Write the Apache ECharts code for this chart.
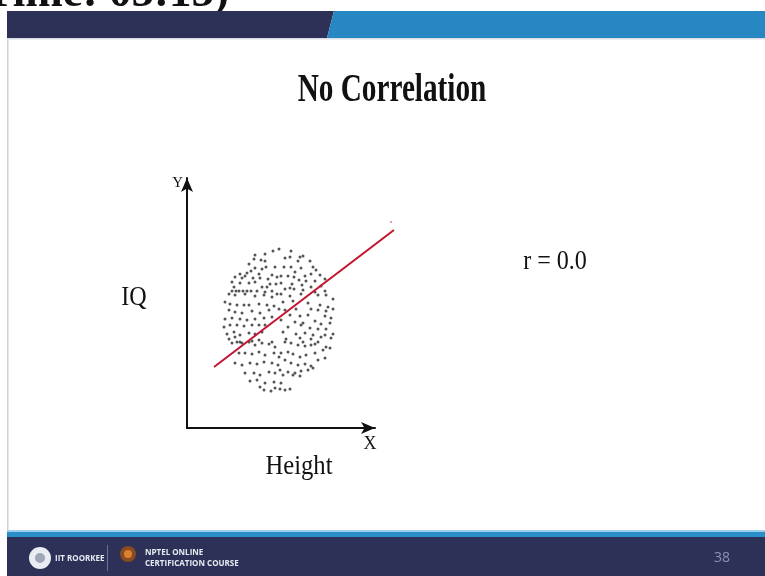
<!DOCTYPE html>
<html><head><meta charset="utf-8">
<script src="https://cdn.jsdelivr.net/npm/echarts@6/dist/echarts.min.js"></script>
<style>html,body{margin:0;padding:0;background:#fff}#chart{width:765px;height:576px}</style>
</head><body><div id="chart"></div>
<script>
// Height (x) vs IQ (y): a round cloud with no trend
const cloudPoints = [
  [92,179],[86,177],[78,174],[68,173],[67,169],[74,168],[78,167],[62,164],[88,161],[79,161],
  [68,160],[75,159],[64,157],[60,155],[53,154],[58,152],[72,154],[85,153],[90,151],[48,151],
  [55,150],[66,150],[73,150],[81,149],[45,146],[53,145],[62,145],[68,146],[83,144],[89,144],
  [47,141],[75,141],[80,141],[45,137],[49,137],[52,137],[56,137],[60,137],[64,137],[70,137],
  [78,136],[85,137],
  [104,177],[98,170],[103,171],[113,171],[116,172],[111,167],[123,167],[97,161],[104,161],
  [114,160],[126,161],[129,158],[108,156],[94,152],[101,152],[107,151],[118,152],[124,154],
  [133,153],[112,148],[119,147],[128,147],[138,149],[94,145],[105,144],[115,143],[124,141],
  [134,142],[98,139],[103,140],[107,139],[116,138],[128,136],[138,137],
  [42,134],[48,133],[58,134],[68,132],[77,133],[85,131],[90,134],[38,126],[43,124],[50,123],
  [57,123],[62,123],[72,124],[80,123],[87,122],[42,118],[48,116],[55,115],[65,117],[73,115],
  [82,118],[92,119],[38,109],[45,110],[53,109],[60,108],[68,109],[77,110],[85,111],[37,101],
  [43,103],[50,103],[57,102],[65,103],[72,103],[78,103],[40,94],[47,96],[53,93],[62,95],
  [68,94],[75,96],[42,89],[48,91],[53,86],[65,87],[72,88],[85,86],
  [94,134],[103,132],[114,134],[131,133],[139,133],[146,129],[96,126],[106,127],[121,125],
  [133,123],[141,121],[98,118],[109,119],[124,119],[131,118],[139,117],[146,119],[103,113],
  [113,112],[121,113],[138,112],[144,110],[94,108],[108,106],[116,105],[128,107],[134,104],
  [143,105],[101,101],[114,103],[123,100],[131,99],[139,99],[96,96],[109,94],[118,95],
  [126,93],[138,93],[146,94],[99,89],[113,90],[124,89],[134,91],[144,90],[104,85],[116,86],
  [128,84],
  [45,85],[50,86],[55,85],[62,86],[68,83],[75,85],[82,84],[88,81],[52,75],[58,75],[65,74],
  [72,76],[78,73],[87,75],[92,71],[48,65],[55,63],[63,65],[70,64],[77,66],[85,65],[91,63],
  [58,55],[67,55],[73,53],[82,56],[88,55],[63,47],[70,48],[78,45],[87,46],[73,41],[77,38],
  [84,37],[88,40],
  [98,86],[111,83],[118,82],[124,83],[131,86],[139,81],[94,75],[101,76],[106,74],[113,71],
  [119,73],[128,75],[136,78],[143,80],[98,68],[104,65],[111,63],[118,64],[124,62],[131,68],
  [138,70],[93,58],[101,56],[108,55],[114,57],[121,58],[126,60],[96,53],[106,53],[113,52],
  [94,45],[93,39],[98,38],[103,39]
];
// Fitted line endpoints and a stray mark beyond its end
const fitLine = [[27,61],[207,198]];
const strayPoint = [[204,206]];
// The drawn axes stop at axisRange; the plotting frame runs a little wider so
// the fitted line can continue past the arrow.
const axisRange = { xMax: 188, yMax: 250 };
const plotRange = { xMax: 220, yMax: 250 };
const axisNames = { x: 'X', y: 'Y' };

const serif = '"Liberation Serif", "DejaVu Serif", serif';
const sans = '"Open Sans", "Liberation Sans", sans-serif';
const NAVY = '#2d3157';
const BLUE = '#2787c2';

const chart = echarts.init(document.getElementById('chart'), null, { renderer: 'canvas' });

function slideText(x, y, text, size, opts) {
  opts = opts || {};
  return {
    type: 'text', x: x, y: y, scaleX: opts.scaleX || 1, z: opts.z == null ? 10 : opts.z,
    style: {
      text: text, fill: opts.fill || '#111',
      font: (opts.weight || 'normal') + ' ' + size + 'px ' + (opts.family || serif),
      textAlign: opts.align || 'left', textVerticalAlign: opts.valign || 'middle'
    }
  };
}

const hidden = { axisLine: { show: false }, axisTick: { show: false }, axisLabel: { show: false }, splitLine: { show: false } };

chart.setOption({
  animation: false,
  backgroundColor: '#ffffff',
  grid: [
    { left: 187, top: 178, width: axisRange.xMax, height: axisRange.yMax, containLabel: false },
    { left: 187, top: 178, width: plotRange.xMax, height: plotRange.yMax, containLabel: false }
  ],
  xAxis: [
    {
      type: 'value', gridIndex: 0, min: 0, max: axisRange.xMax,
      name: axisNames.x, nameLocation: 'end', nameGap: -5,
      nameTextStyle: { fontFamily: serif, fontSize: 18, color: '#111', align: 'center', verticalAlign: 'top', padding: [7, 0, 0, 0] },
      axisLine: { show: true, onZero: false, symbol: ['none', 'arrow'], symbolSize: [9, 14], lineStyle: { color: '#111', width: 2 } },
      axisTick: { show: false }, axisLabel: { show: false }, splitLine: { show: false }
    },
    Object.assign({ type: 'value', gridIndex: 1, min: 0, max: plotRange.xMax }, hidden)
  ],
  yAxis: [
    {
      type: 'value', gridIndex: 0, min: 0, max: axisRange.yMax,
      name: axisNames.y, nameLocation: 'end', nameGap: -13,
      nameTextStyle: { fontFamily: serif, fontSize: 15, color: '#111', align: 'right', verticalAlign: 'bottom', padding: [0, 4, 0, 0] },
      axisLine: { show: true, onZero: false, symbol: ['none', 'arrow'], symbolSize: [9, 14], lineStyle: { color: '#111', width: 2 } },
      axisTick: { show: false }, axisLabel: { show: false }, splitLine: { show: false }
    },
    Object.assign({ type: 'value', gridIndex: 1, min: 0, max: plotRange.yMax }, hidden)
  ],
  series: [
    {
      type: 'scatter', xAxisIndex: 1, yAxisIndex: 1, data: cloudPoints, symbolSize: 3,
      itemStyle: { color: '#2b2b2b' }, silent: true
    },
    {
      type: 'line', xAxisIndex: 1, yAxisIndex: 1, data: fitLine, symbol: 'none',
      lineStyle: { color: '#c4122f', width: 2 }, silent: true, z: 3
    },
    {
      type: 'scatter', xAxisIndex: 1, yAxisIndex: 1, data: strayPoint, symbolSize: 2,
      itemStyle: { color: '#d0607a' }, silent: true
    }
  ],
  graphic: [
    // caption above the slide
    slideText(229, 17, '(Refer Slide Time: 05:15)', 45, { weight: 'bold', align: 'right', valign: 'bottom', z: 0 }),
    // header band
    { type: 'polygon', z: 1, shape: { points: [[7,11],[334,11],[327,38],[7,38]] }, style: { fill: NAVY } },
    { type: 'polygon', z: 1, shape: { points: [[334,11],[765,11],[765,38],[327,38]] }, style: { fill: BLUE } },
    { type: 'rect', z: 1, shape: { x: 7, y: 38, width: 758, height: 1.5 }, style: { fill: '#d9dce4' } },
    // left edge of the slide
    { type: 'rect', shape: { x: 7, y: 38, width: 1.5, height: 494 }, style: { fill: '#cfd1d6' } },
    // footer
    { type: 'rect', shape: { x: 7, y: 530, width: 758, height: 2 }, style: { fill: '#9fd0ea' } },
    { type: 'rect', shape: { x: 7, y: 532, width: 758, height: 5 }, style: { fill: '#2a8fc8' } },
    { type: 'rect', shape: { x: 7, y: 537, width: 758, height: 39 }, style: { fill: NAVY } },
    { type: 'circle', shape: { cx: 40, cy: 558, r: 11 }, style: { fill: '#e9ecf2' } },
    { type: 'circle', shape: { cx: 40, cy: 558, r: 5 }, style: { fill: '#9ea6b8' } },
    slideText(55, 559, 'IIT ROORKEE', 8, { family: sans, weight: 'bold', fill: '#e8eaf2' }),
    { type: 'rect', shape: { x: 107, y: 545, width: 1, height: 26 }, style: { fill: '#6c7196' } },
    { type: 'circle', shape: { cx: 128, cy: 554, r: 8 }, style: { fill: '#8a4a22' } },
    { type: 'circle', shape: { cx: 128, cy: 554, r: 4 }, style: { fill: '#d9832f' } },
    slideText(145, 553, 'NPTEL ONLINE', 8, { family: sans, weight: 'bold', fill: '#e8eaf2' }),
    slideText(145, 564, 'CERTIFICATION COURSE', 8, { family: sans, weight: 'bold', fill: '#e8eaf2' }),
    slideText(722, 558, '38', 14, { family: sans, fill: '#8d92b4', align: 'center' }),
    // slide texts (the slide is drawn horizontally condensed)
    slideText(392, 91, 'No Correlation', 39, { weight: 'bold', align: 'center', scaleX: 0.75 }),
    slideText(555, 262, 'r = 0.0', 28, { align: 'center', scaleX: 0.86 }),
    slideText(134, 298, 'IQ', 28, { align: 'center', scaleX: 0.86 }),
    slideText(299, 467, 'Height', 28, { align: 'center', scaleX: 0.88 })
  ]
});
</script></body></html>
